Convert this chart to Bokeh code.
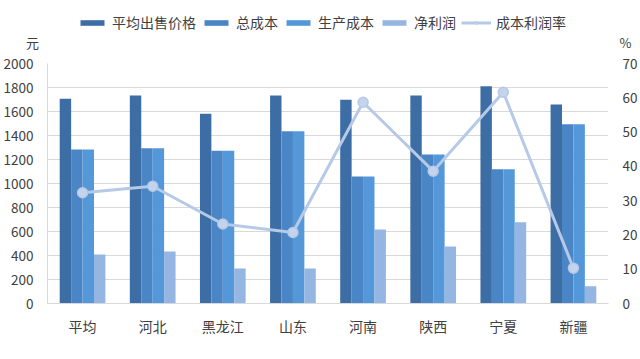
from bokeh.plotting import figure
from bokeh.models import (ColumnDataSource, Range1d, LinearAxis, Legend, LegendItem,
                          FixedTicker, FactorRange)
from bokeh.layouts import column
from bokeh.transform import dodge
from bokeh.core.properties import value
from bokeh.embed import file_html
from bokeh.resources import INLINE

categories = ["平均", "河北", "黑龙江", "山东", "河南", "陕西", "宁夏", "新疆"]
avg_price = [1706, 1733, 1581, 1733, 1697, 1733, 1811, 1658]
total_cost = [1283, 1294, 1272, 1436, 1058, 1242, 1119, 1494]
prod_cost = [1283, 1294, 1272, 1436, 1058, 1242, 1119, 1494]
net_profit = [408, 433, 292, 292, 617, 475, 678, 144]
profit_rate = [32.3, 34.2, 23.2, 20.7, 58.7, 38.6, 61.6, 10.3]

series_names = ["平均出售价格", "总成本", "生产成本", "净利润", "成本利润率"]
left_unit = "元"
right_unit = "%"
left_ticks = [0, 200, 400, 600, 800, 1000, 1200, 1400, 1600, 1800, 2000]
right_ticks = [0, 10, 20, 30, 40, 50, 60, 70]

FONT = "Noto Sans CJK SC"
TXT = "#404040"
C_PRICE = "#3c6ea5"
C_TOTAL = "#4a86c6"
C_PROD = "#5498da"
C_NET = "#95b6e2"
C_LINE = "#b6c9e6"
C_MARK = "#c4d4ec"

# ---------------- header (legend + unit labels) ----------------
H = 52
head = figure(width=640, height=H, x_range=Range1d(0, 640), y_range=Range1d(0, H),
              output_backend="svg", toolbar_location=None,
              min_border_left=0, min_border_right=0, min_border_top=0, min_border_bottom=0)
try:
    head.frame_align = False
except Exception:
    pass
head.axis.visible = False
head.grid.visible = False
head.outline_line_color = None

# legend proxies: one point placed outside the visible header range
proxy = ColumnDataSource(dict(x=[-100], y=[-100]))
h1 = head.vbar(x="x", top="y", width=1, source=proxy, fill_color=C_PRICE, line_color=None)
h2 = head.vbar(x="x", top="y", width=1, source=proxy, fill_color=C_TOTAL, line_color=None)
h3 = head.vbar(x="x", top="y", width=1, source=proxy, fill_color=C_PROD, line_color=None)
h4 = head.vbar(x="x", top="y", width=1, source=proxy, fill_color=C_NET, line_color=None)
hl = head.line(x="x", y="y", source=proxy, line_color=C_LINE, line_width=3)
hc = head.scatter(x="x", y="y", source=proxy, size=8, fill_color=C_MARK, line_color=C_LINE)

legend = Legend(items=[
    LegendItem(label=series_names[0], renderers=[h1]),
    LegendItem(label=series_names[1], renderers=[h2]),
    LegendItem(label=series_names[2], renderers=[h3]),
    LegendItem(label=series_names[3], renderers=[h4]),
    LegendItem(label=series_names[4], renderers=[hl, hc]),
], orientation="horizontal", location=(77, 20))
legend.label_text_font = FONT
legend.label_text_font_size = "14px"
legend.label_text_color = TXT
legend.border_line_color = None
legend.background_fill_alpha = 0
legend.padding = 0
legend.margin = 0
legend.glyph_width = 30
legend.glyph_height = 7
legend.label_standoff = 5
legend.spacing = 5
head.add_layout(legend, "center")

units = ColumnDataSource(dict(x=[32, 625], y=[H - 42, H - 42], t=[left_unit, right_unit]))
head.text(x="x", y="y", text="t", source=units, text_font=value(FONT),
          text_font_size="13px", text_color=TXT, text_align="center", text_baseline="middle")

# ---------------- main chart ----------------
src = ColumnDataSource(dict(cat=categories, price=avg_price, total=total_cost,
                            prod=prod_cost, net=net_profit, rate=profit_rate))

p = figure(x_range=FactorRange(*categories, range_padding=0), y_range=Range1d(0, 2000),
           width=640, height=359 - H, output_backend="svg", toolbar_location=None,
           min_border_left=46, min_border_right=30, min_border_top=63 - H, min_border_bottom=56)
p.extra_y_ranges = {"pct": Range1d(0, 70)}

w = 0.163
p.vbar(x=dodge("cat", -1.5 * w, range=p.x_range), top="price", width=w, source=src,
       fill_color=C_PRICE, line_color=None)
p.vbar(x=dodge("cat", -0.5 * w, range=p.x_range), top="total", width=w, source=src,
       fill_color=C_TOTAL, line_color=None)
p.vbar(x=dodge("cat", 0.5 * w, range=p.x_range), top="prod", width=w, source=src,
       fill_color=C_PROD, line_color=None)
p.vbar(x=dodge("cat", 1.5 * w, range=p.x_range), top="net", width=w, source=src,
       fill_color=C_NET, line_color=None)
p.line(x="cat", y="rate", source=src, y_range_name="pct", line_color=C_LINE, line_width=3)
p.scatter(x="cat", y="rate", source=src, y_range_name="pct", size=10,
          fill_color=C_MARK, line_color=C_LINE, line_width=1.5)

p.outline_line_color = None
p.xgrid.grid_line_color = None
p.ygrid.grid_line_color = "#d9d9d9"
p.ygrid.ticker = FixedTicker(ticks=left_ticks)

p.yaxis.ticker = FixedTicker(ticks=left_ticks)
for ax in [p.yaxis[0], p.xaxis[0]]:
    ax.major_label_text_font = FONT
    ax.major_label_text_font_size = "13.5px"
    ax.major_label_text_color = TXT
    ax.major_tick_line_color = None
    ax.minor_tick_line_color = None
    ax.axis_line_color = "#d9d9d9"
p.xaxis.major_label_text_font_size = "14px"
p.xaxis.major_label_standoff = 6
p.yaxis.major_label_standoff = 8

ra = LinearAxis(y_range_name="pct", ticker=FixedTicker(ticks=right_ticks))
ra.major_label_text_font = FONT
ra.major_label_text_font_size = "13.5px"
ra.major_label_text_color = TXT
ra.major_tick_line_color = None
ra.minor_tick_line_color = None
ra.axis_line_color = None
ra.major_label_standoff = 8
p.add_layout(ra, "right")

layout = column(head, p, spacing=0)
open("out.html", "w").write(file_html(layout, INLINE))
